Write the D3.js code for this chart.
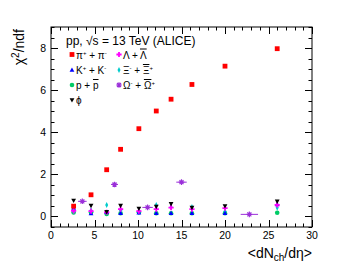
<!DOCTYPE html>
<html><head><meta charset="utf-8">
<script src="https://cdn.jsdelivr.net/npm/d3@7"></script>
<style>body{margin:0;background:#fff}svg{display:block}text{font-family:"Liberation Sans",Arial,sans-serif}</style>
</head><body><svg id="c" width="347" height="267"></svg>
<script>
const xClasses = [2.6, 4.6, 6.4, 8.0, 10.1, 12.1, 13.8, 16.2, 20.0, 26.0];
const pion   = [0.49, 1.03, 2.22, 3.19, 4.17, 5.01, 5.57, 6.27, 7.14, 7.97];
const kaon   = [0.40, 0.14, 0.20, 0.15, 0.18, 0.15, 0.15, 0.15, 0.15, 0.57];
const proton = [0.19, 0.20, 0.12, 0.15, 0.20, 0.15, 0.15, 0.15, 0.15, 0.18];
const phi    = [0.76, 0.52, 0.22, 0.52, 0.38, 0.47, 0.60, 0.42, 0.50, 0.72];
const lambda = [0.27, 0.25, 0.20, 0.35, 0.25, 0.35, 0.42, 0.35, 0.40, 0.55];
const xi     = [0.25, 0.30, 0.55, 0.30, 0.20, 0.55, 0.45, 0.45, 0.25, 0.42];
const omegaX = [3.6, 7.3, 11.1, 15.0, 22.8];
const omega  = [0.72, 1.52, 0.43, 1.63, 0.10];
const omegaXErr = [0.5, 0.4, 0.6, 0.6, 1.0];
const xTicks = [0, 5, 10, 15, 20, 25, 30];
const yTicks = [0, 2, 4, 6, 8];

const svg = d3.select("#c");
const L = 51, R = 312, T = 27, B = 227;
const x = d3.scaleLinear().domain([0, 30]).range([L, R]);
const y = d3.scaleLinear().domain([-0.5, 9]).range([B, T]);

svg.append("rect").attr("x", L).attr("y", T).attr("width", R - L).attr("height", B - T)
  .attr("fill", "none").attr("stroke", "#000").attr("stroke-width", 1);

const g = svg.append("g").attr("stroke", "#000").attr("stroke-width", 1);
d3.range(0, 30.01, 1).forEach(v => {
  const len = v % 5 === 0 ? 7 : 3.5;
  const px = Math.round(x(v)) + 0.5;
  g.append("line").attr("x1", px).attr("x2", px).attr("y1", B).attr("y2", B - len);
  g.append("line").attr("x1", px).attr("x2", px).attr("y1", T).attr("y2", T + len);
});
d3.range(-0.5, 9.01, 0.5).forEach(v => {
  const len = Math.abs(v % 2) < 1e-6 ? 7 : 3.5;
  const py = Math.round(y(v)) + 0.5;
  g.append("line").attr("x1", L).attr("x2", L + len).attr("y1", py).attr("y2", py);
  g.append("line").attr("x1", R).attr("x2", R - len).attr("y1", py).attr("y2", py);
});
svg.selectAll(".xt").data(xTicks).enter().append("text")
  .attr("x", d => x(d)).attr("y", 239).attr("text-anchor", "middle")
  .attr("font-size", 10.5).text(d => d);
svg.selectAll(".yt").data(yTicks).enter().append("text")
  .attr("x", 46).attr("y", d => y(d) + 3.8).attr("text-anchor", "end")
  .attr("font-size", 10.5).text(d => d);

const xt = svg.append("text").attr("x", R).attr("y", 258).attr("text-anchor", "end").attr("font-size", 14);
xt.append("tspan").text("<dN");
xt.append("tspan").attr("font-size", 10).attr("dy", 3).text("ch");
xt.append("tspan").attr("dy", -3).text("/dη>");
const yt = svg.append("text").attr("transform", "translate(24,29) rotate(-90)").attr("text-anchor", "end").attr("font-size", 14);
yt.append("tspan").text("χ");
yt.append("tspan").attr("font-size", 10).attr("dy", -5).text("2");
yt.append("tspan").attr("dy", 5).text("/ndf");

function sq(sel, c) { sel.append("rect").attr("x", -2.4).attr("y", -2.4).attr("width", 4.8).attr("height", 4.8).attr("fill", c); }
function tri(sel, c) { sel.append("path").attr("d", "M0,-2.6L2.4,1.8H-2.4Z").attr("fill", c); }
function tridown(sel, c) { sel.append("path").attr("d", "M0,2.6L2.4,-1.8H-2.4Z").attr("fill", c); }
function circ(sel, c) { sel.append("circle").attr("r", 2.3).attr("fill", c); }
function cross(sel, c) { sel.append("path").attr("d", "M-2.6,-0.9H-0.9V-2.6H0.9V-0.9H2.6V0.9H0.9V2.6H-0.9V0.9H-2.6Z").attr("fill", c); }
function diam(sel, c) { sel.append("path").attr("d", "M0,-3L1.5,0L0,3L-1.5,0Z").attr("fill", c); }
function star(sel, c) {
  sel.append("path").attr("d", "M-2.8,0H2.8M0,-2.8V2.8M-2,-2L2,2M-2,2L2,-2").attr("stroke", c).attr("stroke-width", 1.2);
}

const series = [
  {xs: omegaX, ys: omega, xe: omegaXErr, c: "#9b30d9", m: star},
  {xs: xClasses, ys: proton, c: "#00cc66", m: circ},
  {xs: xClasses, ys: xi, c: "#00cccc", m: diam},
  {xs: xClasses, ys: kaon, c: "#0000ff", m: tri},
  {xs: xClasses, ys: lambda, c: "#ff00ff", m: cross},
  {xs: xClasses, ys: phi, c: "#000000", m: tridown},
  {xs: xClasses, ys: pion, c: "#ff0000", m: sq}
];
series.forEach(s => {
  const gs = svg.append("g");
  s.ys.forEach((v, i) => {
    const px = x(s.xs[i]), py = y(v);
    if (s.xe) gs.append("line").attr("x1", x(s.xs[i] - s.xe[i])).attr("x2", x(s.xs[i] + s.xe[i]))
      .attr("y1", py).attr("y2", py).attr("stroke", s.c).attr("stroke-width", 1);
    const m = gs.append("g").attr("transform", `translate(${px},${py})`);
    s.m(m, s.c);
  });
});

svg.append("text").attr("x", 66).attr("y", 45).attr("font-size", 12).text("pp, √s = 13 TeV (ALICE)");
const rows = [54.5, 70, 85, 100];
function entry(mk, c, mx, my, tx, parts) {
  const m = svg.append("g").attr("transform", `translate(${mx},${my})`);
  mk(m, c);
  const t = svg.append("text").attr("x", tx).attr("y", my + 4).attr("font-size", 10);
  parts.forEach(p => {
    const ts = t.append("tspan").text(p[0]);
    if (p[1] === "sup") ts.attr("font-size", 6).attr("dy", -4);
    if (p[1] === "base") ts.attr("dy", 4);
    if (p[2] === "over") ts.attr("text-decoration", "overline");
  });
}
entry(sq, "#ff0000", 72, rows[0], 76, [["π"], ["+", "sup"], [" + π", "base"], ["-", "sup"]]);
entry(tri, "#0000ff", 72, rows[1], 76, [["K"], ["+", "sup"], [" + K", "base"], ["-", "sup"]]);
entry(circ, "#00cc66", 72, rows[2], 76, [["p + "], ["p", null, "over"]]);
entry(tridown, "#000000", 72, rows[3], 76, [["ϕ"]]);
entry(cross, "#ff00ff", 119, rows[0], 123, [["Λ + "], ["Λ", null, "over"]]);
entry(diam, "#00cccc", 119, rows[1], 123, [["Ξ"], ["-", "sup"], [" + ", "base"], ["Ξ", null, "over"], ["+", "sup"]]);
entry(star, "#9b30d9", 119, rows[2], 123, [["Ω"], ["-", "sup"], [" + ", "base"], ["Ω", null, "over"], ["+", "sup"]]);
</script></body></html>
